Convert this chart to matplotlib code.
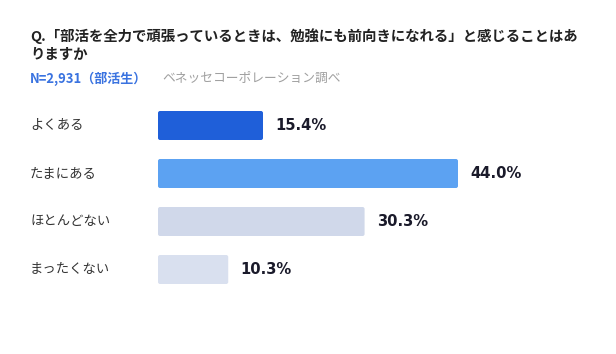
import matplotlib
matplotlib.use("Agg")
import matplotlib.pyplot as plt
from matplotlib.patches import FancyBboxPatch

plt.rcParams['font.family'] = ['Noto Sans CJK JP', 'DejaVu Sans']

categories = ["よくある", "たまにある", "ほとんどない", "まったくない"]
values = [15.4, 44.0, 30.3, 10.3]
colors = ["#1f5fd9", "#5ca2f2", "#d0d8ea", "#d9e0ef"]
title_lines = ["Q.「部活を全力で頑張っているときは、勉強にも前向きになれる」と感じることはあ", "りますか"]
n_label = "N=2,931（部活生）"
source_label = "ベネッセコーポレーション調べ"

W, H = 616, 354
fig = plt.figure(figsize=(W / 100, H / 100), dpi=100)
fig.patch.set_facecolor("white")

px_per_unit = 6.818
left_px = 158
xmax = 60
ax_w = xmax * px_per_unit
top_px, bot_px = 101.5, 293.5
ax = fig.add_axes([left_px / W, 1 - bot_px / H, ax_w / W, (bot_px - top_px) / H])
ax.set_xlim(0, xmax)
ax.set_ylim(len(categories) - 0.5, -0.5)
ax.axis("off")

bar_h = 29 / 48
for i, (v, c) in enumerate(zip(values, colors)):
    p = FancyBboxPatch((0, i - bar_h / 2), v, bar_h,
                       boxstyle="round,pad=0,rounding_size=0.3",
                       mutation_aspect=(1 / 48) / (1 / px_per_unit),
                       facecolor=c, edgecolor="none")
    ax.add_patch(p)
    ax.text(v + 12 / px_per_unit, i, f"{v:.1f}%", va="center", ha="left",
            fontsize=10.6, fontweight="bold", color="#1a1a2a",
            family="DejaVu Sans")
    ax.text(-128 / px_per_unit, i, categories[i], va="center", ha="left",
            fontsize=9.6, color="#333333")

fig.text(30 / W, 1 - 36.5 / H, title_lines[0], fontsize=10.4, fontweight="bold",
         color="#222222", va="center", ha="left")
fig.text(30 / W, 1 - 55 / H, title_lines[1], fontsize=10.4, fontweight="bold",
         color="#222222", va="center", ha="left")
fig.text(30 / W, 1 - 78.5 / H, n_label, fontsize=9.4, fontweight="bold",
         color="#3a73e0", va="center", ha="left")
fig.text(162 / W, 1 - 78.5 / H, source_label, fontsize=9.2,
         color="#a0a0a0", va="center", ha="left")

fig.savefig("out.png", dpi=100, facecolor="white")
